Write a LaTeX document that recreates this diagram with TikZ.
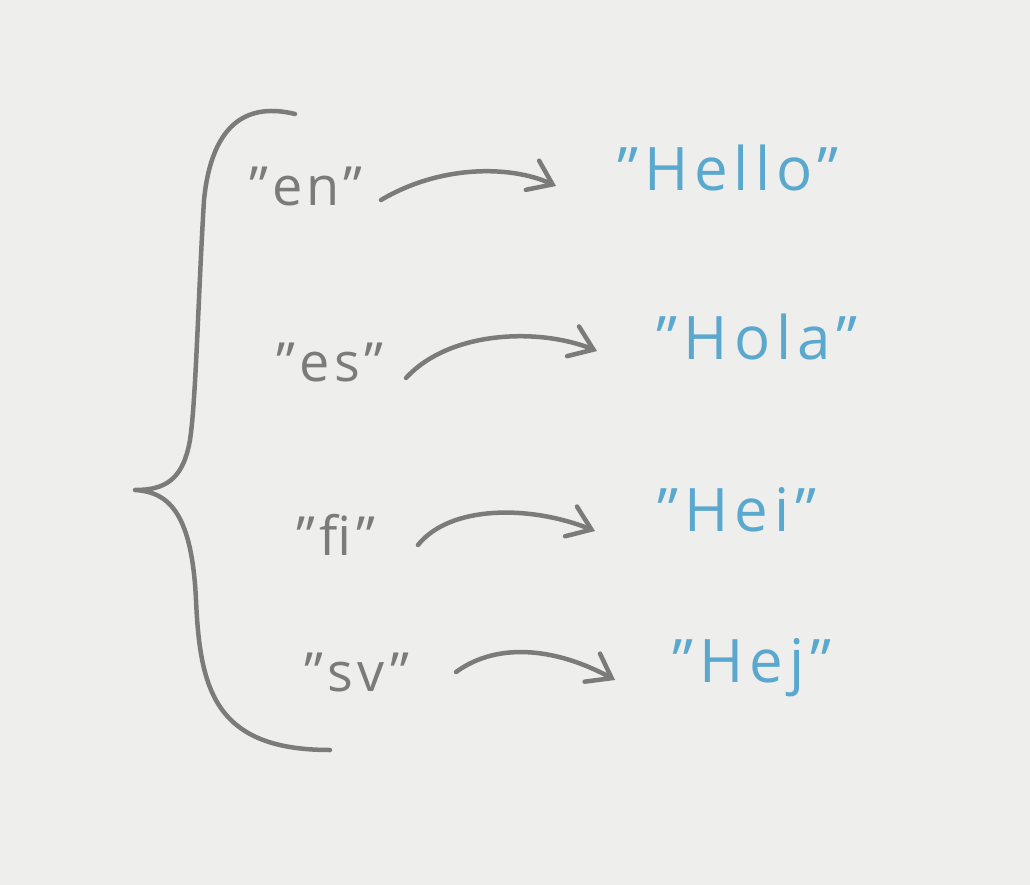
\documentclass[tikz,border=0pt]{standalone}
\usepackage{fontspec}
\setmainfont{Open Sans}
\usetikzlibrary{arrows.meta}
\definecolor{paper}{HTML}{EEEEEC}
\definecolor{pen}{HTML}{7B7B7B}
\definecolor{ink}{HTML}{5BA8CF}
\tikzset{
  keytext/.style={text=pen, font=\fontsize{54}{54}\selectfont\addfontfeatures{LetterSpace=8}, inner sep=0pt},
  valtext/.style={text=ink, font=\fontsize{60}{60}\selectfont\addfontfeatures{LetterSpace=10}, inner sep=0pt},
  stroke/.style={draw=pen, line width=4.5pt, line cap=round, line join=round},
  maparrow/.style={stroke, -{Straight Barb[length=22pt, width=32pt, line width=4.5pt, line cap=round]}},
}
\begin{document}
\begin{tikzpicture}[x=1pt, y=-1pt]
\useasboundingbox[fill=paper] (0,0) rectangle (1030,885);
% brace
\draw[stroke] (295,114) .. controls (250,103) and (212,120) .. (204,200)
  .. controls (198,300) and (196,400) .. (190,440)
  .. controls (183,480) and (165,490) .. (135,490)
  .. controls (170,492) and (192,515) .. (196,600)
  .. controls (200,690) and (215,750) .. (330,750);
% keys
\node[keytext] (en) at (306,186) {"en"};
\node[keytext] (es) at (330,362) {"es"};
\node[keytext] (fi) at (336,535) {"fi"};
\node[keytext] (sv) at (357,672) {"sv"};
% values
\node[valtext] (hello) at (728,168) {"Hello"};
\node[valtext] (hola) at (757,337) {"Hola"};
\node[valtext] (hei) at (737,510) {"Hei"};
\node[valtext] (hej) at (752,668) {"Hej"};
% arrow end points
\coordinate (a1) at (381,200); \coordinate (b1) at (556,186);
\coordinate (a2) at (406,378); \coordinate (b2) at (597,351);
\coordinate (a3) at (418,545); \coordinate (b3) at (595,531);
\coordinate (a4) at (456,672); \coordinate (b4) at (615,680);
\draw[maparrow] (a1) .. controls (440,165) and (510,165) .. (b1);
\draw[maparrow] (a2) .. controls (450,330) and (540,328) .. (b2);
\draw[maparrow] (a3) .. controls (450,505) and (530,505) .. (b3);
\draw[maparrow] (a4) .. controls (500,640) and (560,650) .. (b4);
\end{tikzpicture}
\end{document}
